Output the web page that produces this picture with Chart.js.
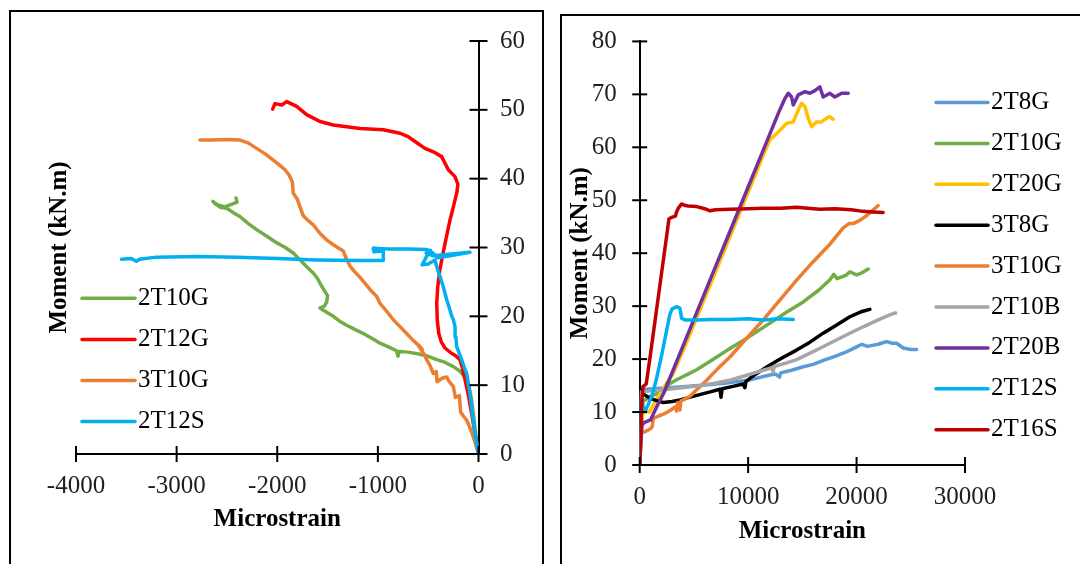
<!DOCTYPE html>
<html><head><meta charset="utf-8">
<script src="https://cdn.jsdelivr.net/npm/chart.js@4.4.1/dist/chart.umd.min.js"></script>
<style>
html,body{margin:0;padding:0;background:#fff;width:1080px;height:564px;overflow:hidden;position:relative;}
canvas{position:absolute;top:0;}
#cL{left:0;} #cR{left:550px;}
.frame{position:absolute;border:2px solid #000;box-sizing:border-box;pointer-events:none;}
#fL{left:9px;top:10px;width:535px;height:620px;}
#fR{left:560px;top:14px;width:560px;height:620px;}
</style></head>
<body>
<canvas id="cL" width="550" height="564"></canvas>
<canvas id="cR" width="530" height="564"></canvas>
<div class="frame" id="fL"></div>
<div class="frame" id="fR"></div>
<script>
// ---------- LEFT PANEL DATA (x = microstrain, y = moment kN.m) ----------
const leftNames = ['2T10G','2T12G','3T10G','2T12S'];
const leftXTicks = [-4000,-3000,-2000,-1000,0];
const leftYTicks = [0,10,20,30,40,50,60];

const L_2T10G = [[0,0],[-20,2],[-45,5],[-70,8],[-100,10.2],[-140,11.3],[-190,12.1],[-250,12.7],[-330,13.3],[-415,13.7],[-500,14.2],[-581,14.5],[-700,14.8],[-790,14.9],[-800,14.2],[-815,15.0],[-900,15.6],[-979,16.1],[-1060,16.8],[-1145,17.5],[-1230,18.1],[-1310,18.7],[-1380,19.3],[-1443,20.0],[-1510,20.6],[-1575,21.2],[-1530,21.5],[-1509,22.1],[-1500,23.0],[-1530,23.7],[-1575,24.8],[-1600,25.5],[-1642,26.3],[-1700,27.1],[-1741,27.7],[-1800,28.6],[-1841,29.2],[-1920,30.0],[-2006,30.7],[-2100,31.6],[-2205,32.6],[-2290,33.5],[-2371,34.5],[-2440,35.1],[-2503,35.7],[-2560,35.8],[-2620,36.4],[-2640,36.7],[-2590,36.2],[-2520,35.9],[-2450,36.3],[-2400,36.6],[-2410,37.2]];
const L_2T12G = [[0,0],[-30,2.5],[-68,5.9],[-100,8.5],[-134,10.8],[-160,12.5],[-184,13.7],[-230,14.3],[-266,14.6],[-333,15.4],[-370,16.3],[-395,17.5],[-410,19.5],[-415,21.9],[-405,24.3],[-385,26.7],[-352,29.2],[-318,31.6],[-283,34.0],[-250,35.9],[-215,38.0],[-205,39.2],[-234,40.3],[-300,41.3],[-366,43.2],[-449,43.9],[-532,44.4],[-631,45.4],[-700,46.1],[-780,46.6],[-946,47.1],[-1178,47.3],[-1443,47.8],[-1575,48.3],[-1708,49.3],[-1807,50.5],[-1906,51.2],[-1956,50.7],[-2023,50.9],[-2046,50.1]];
const L_3T10G = [[0,0],[-30,1.5],[-52,2.5],[-90,4.0],[-117,4.9],[-150,5.5],[-178,6.1],[-190,8.5],[-230,8.2],[-250,9.8],[-290,10.5],[-316,11.2],[-360,11.0],[-412,10.5],[-420,12.0],[-449,11.7],[-480,12.8],[-515,13.7],[-540,14.5],[-600,15.8],[-560,15.2],[-581,15.6],[-650,16.5],[-714,17.5],[-780,18.5],[-847,19.5],[-910,20.7],[-979,21.9],[-1012,22.9],[-1060,23.6],[-1111,24.5],[-1180,25.7],[-1244,26.7],[-1277,27.3],[-1320,28.6],[-1344,29.5],[-1400,30.0],[-1443,30.4],[-1500,31.0],[-1559,31.8],[-1600,32.5],[-1642,33.3],[-1700,34.0],[-1741,34.6],[-1774,35.9],[-1800,37.0],[-1841,37.9],[-1850,39.5],[-1880,40.5],[-1923,41.3],[-1980,42.0],[-2040,42.7],[-2120,43.6],[-2205,44.4],[-2290,45.2],[-2371,45.6],[-2500,45.7],[-2650,45.6],[-2768,45.6]];
const L_2T12S = [[0,0],[-30,2.5],[-52,4.9],[-85,8.8],[-117,11.7],[-140,12.5],[-167,13.7],[-217,15.6],[-225,17.0],[-233,18.5],[-250,19.5],[-266,20.0],[-283,20.9],[-316,22.4],[-350,24.3],[-383,25.8],[-415,27.2],[-432,28.2],[-500,27.6],[-560,27.5],[-520,28.6],[-480,29.6],[-520,29.2],[-450,28.8],[-85,29.3],[-400,28.5],[-480,29.5],[-515,29.7],[-700,29.8],[-900,29.8],[-1046,29.9],[-1040,29.4],[-946,29.5],[-946,28.1],[-1200,28.1],[-1600,28.2],[-2000,28.4],[-2400,28.6],[-2800,28.7],[-3200,28.6],[-3370,28.3],[-3400,28.0],[-3450,28.4],[-3548,28.3]];
const leftSeries = [L_2T10G, L_2T12G, L_3T10G, L_2T12S];

// ---------- RIGHT PANEL DATA ----------
const rightNames = ['2T8G','2T10G','2T20G','3T8G','3T10G','2T10B','2T20B','2T12S','2T16S'];
const rightXTicks = [0,10000,20000,30000];
const rightYTicks = [0,10,20,30,40,50,60,70,80];

const R_2T8G = [[0,0],[200,13.5],[500,14.3],[2000,14.5],[4000,14.8],[6000,15.1],[8000,15.5],[10000,16.0],[11000,16.5],[12000,17.0],[12500,17.2],[12900,16.6],[13000,17.4],[14000,17.9],[15000,18.5],[16000,19.0],[17000,19.8],[18000,20.5],[19000,21.3],[20000,22.3],[20500,22.8],[21000,22.4],[22000,22.8],[22760,23.3],[23300,23.0],[23700,23.0],[24300,22.1],[25000,21.8],[25530,21.8]];
const R_2T10G = [[0,0],[300,12.0],[1000,13.0],[1800,13.6],[2200,14.3],[2800,15.4],[3500,16.2],[4500,17.2],[5250,18.0],[6500,19.6],[8320,22.0],[10000,24.1],[12010,26.8],[13500,28.8],[15080,30.8],[16500,33.0],[17540,35.0],[17900,36.0],[18200,35.2],[19000,35.8],[19380,36.5],[20000,35.9],[20500,36.3],[21070,37.0]];
const R_2T20G = [[0,0],[200,9.0],[400,10.2],[900,10.0],[1300,11.5],[1900,13.5],[2500,15.5],[3100,17.3],[4500,24.0],[6000,31.5],[7500,39.0],[9000,46.5],[10500,54.0],[11600,59.5],[12010,61.4],[12770,62.9],[13550,64.5],[14160,64.8],[14620,67.0],[14930,68.3],[15240,67.7],[15540,65.5],[15850,63.9],[16310,64.8],[16770,64.8],[17240,65.5],[17500,65.8],[17840,65.3]];
const R_3T8G = [[0,0],[100,13.5],[500,13.2],[950,12.6],[1500,12.2],[2180,11.8],[3000,12.0],[3710,12.3],[5000,13.0],[6500,13.8],[7400,14.3],[7500,12.8],[7600,14.4],[8500,14.8],[9550,15.3],[9700,14.6],[9800,15.8],[10500,16.9],[12010,18.9],[13200,20.3],[14470,21.7],[15700,23.2],[16920,24.9],[18200,26.5],[19380,28.0],[20500,29.0],[21220,29.4]];
const R_3T10G = [[0,0],[100,6.0],[500,6.3],[950,6.8],[1150,7.2],[1260,8.8],[1800,9.3],[2180,9.6],[2800,10.3],[3300,11.0],[3400,10.2],[3500,11.8],[3710,10.4],[3800,12.1],[4020,12.3],[4640,13.0],[5300,14.3],[6180,16.0],[7200,18.2],[8320,20.4],[9800,23.8],[11390,27.4],[12900,31.1],[14470,34.9],[16000,38.4],[17540,41.7],[18770,44.8],[19300,45.6],[19690,45.6],[20300,46.2],[20800,46.9],[21220,47.6],[21600,48.3],[21990,49.0]];
const R_2T10B = [[0,0],[100,13.8],[1000,14.0],[2180,14.2],[3500,14.5],[5250,14.9],[6800,15.4],[8320,16.0],[9800,16.9],[11390,17.9],[12200,18.4],[12300,17.5],[12400,18.6],[13400,19.2],[14470,19.9],[16000,21.4],[17540,23.0],[19000,24.5],[20610,26.1],[22000,27.4],[23000,28.3],[23370,28.6],[23600,28.7]];
const R_2T20B = [[0,0],[200,7.5],[400,8.0],[1000,8.5],[1570,11.0],[2200,13.5],[2700,16.0],[4000,22.5],[5500,30.0],[7000,37.5],[8500,45.0],[10000,52.5],[11500,60.0],[12800,66.5],[13390,69.2],[13700,70.2],[14010,69.5],[14160,68.0],[14620,69.9],[15240,70.5],[15700,70.2],[16160,70.7],[16620,71.4],[16920,69.5],[17540,70.2],[18000,69.5],[18620,70.2],[19230,70.2]];
const R_2T12S = [[0,0],[100,12.5],[300,11.0],[490,10.1],[800,11.5],[1200,13.5],[1570,16.5],[2000,20.5],[2490,25.5],[2790,28.5],[3000,29.5],[3410,29.9],[3710,29.6],[3870,27.7],[4200,27.4],[5250,27.4],[6500,27.5],[8320,27.5],[10000,27.6],[11390,27.4],[12800,27.6],[14160,27.5]];
const R_2T16S = [[0,0],[100,7.0],[200,12.0],[300,14.8],[600,15.3],[1000,21.0],[1500,28.5],[2000,36.0],[2500,43.5],[2700,46.5],[3000,46.8],[3300,47.0],[3400,47.8],[3560,48.5],[3870,49.3],[4200,49.0],[4480,48.9],[5250,48.8],[6000,48.4],[6480,48.0],[7000,48.2],[8320,48.3],[10000,48.4],[11390,48.5],[13000,48.5],[14470,48.7],[15500,48.5],[16620,48.3],[18000,48.4],[18770,48.3],[19500,48.2],[20610,47.9],[21500,47.8],[22450,47.7]];
const rightSeries = [R_2T8G, R_2T10G, R_2T20G, R_3T8G, R_3T10G, R_2T10B, R_2T20B, R_2T12S, R_2T16S];

// ---------- STYLES ----------
const leftColors = ['#70AD47','#FF0000','#ED7D31','#00B0F0'];
const rightColors = ['#5B9BD5','#70AD47','#FFC000','#000000','#ED7D31','#A5A5A5','#7030A0','#00B0F0','#C00000'];
const SERIF = '"Liberation Serif","Times New Roman",serif';
const TICK = '#1f1f1f';

function makeSets(names, colors, series, w) {
  return names.map((n, i) => ({
    label: n,
    data: series[i].map(p => ({x: p[0], y: p[1]})),
    borderColor: colors[i], backgroundColor: colors[i],
    borderWidth: w, pointRadius: 0, pointHoverRadius: 0,
    showLine: true, tension: 0,
    borderCapStyle: 'round', borderJoinStyle: 'round',
    order: names.length - i
  }));
}

const crossTicks = {
  id: 'crossTicks',
  afterDraw(chart, args, opts) {
    const ctx = chart.ctx;
    ctx.save();
    ctx.strokeStyle = '#000'; ctx.lineWidth = 2;
    ['x','y'].forEach(id => {
      const s = chart.scales[id];
      const len = id === 'x' ? opts.lenX : opts.lenY;
      s.ticks.forEach(t => {
        const p = s.getPixelForValue(t.value);
        ctx.beginPath();
        if (s.isHorizontal()) {
          ctx.moveTo(p, s.top - len); ctx.lineTo(p, s.top + len);
        } else {
          const x0 = s.position === 'left' ? s.right : s.left;
          ctx.moveTo(x0 - len, p); ctx.lineTo(x0 + len, p);
        }
        ctx.stroke();
      });
    });
    ctx.restore();
  }
};

const boxLegend = {
  id: 'boxLegend',
  afterDraw(chart, args, o) {
    const ctx = chart.ctx;
    ctx.save();
    ctx.font = '25px ' + SERIF;
    ctx.textBaseline = 'middle';
    ctx.textAlign = 'left';
    chart.data.datasets.forEach((ds, i) => {
      const y = o.y0 + i * o.dy;
      ctx.strokeStyle = ds.borderColor; ctx.lineWidth = 3.5; ctx.lineCap = 'round';
      ctx.beginPath(); ctx.moveTo(o.x0, y); ctx.lineTo(o.x1, y); ctx.stroke();
      ctx.fillStyle = '#000';
      ctx.fillText(ds.label, o.x1 + o.gap, y);
    });
    ctx.restore();
  }
};

function tickFont() { return {family: SERIF, size: 25}; }
function titleFont() { return {family: SERIF, size: 25, weight: 'bold'}; }

// ---------- LEFT CHART ----------
new Chart(document.getElementById('cL'), {
  type: 'scatter',
  data: { datasets: makeSets(leftNames, leftColors, leftSeries, 3.5) },
  plugins: [crossTicks, boxLegend],
  options: {
    responsive: false, animation: false, events: [],
    layout: { padding: { top: 41, left: 0, right: 0, bottom: 0 } },
    plugins: {
      legend: { display: false }, tooltip: { enabled: false },
      crossTicks: { lenX: 8, lenY: 9 },
      boxLegend: { x0: 82, x1: 135, gap: 3, y0: 298.3, dy: 41.1 }
    },
    scales: {
      x: {
        type: 'linear', position: 'bottom', min: -4000, max: 0,
        afterBuildTicks: s => { s.ticks = leftXTicks.map(v => ({value: v})); },
        afterFit: s => { s.height = 110; },
        ticks: { color: TICK, font: tickFont(), padding: 17, maxRotation: 0, autoSkip: false, callback: v => String(v) },
        grid: { display: true, drawOnChartArea: false, drawTicks: false },
        border: { display: true, color: '#000', width: 2 },
        title: { display: true, text: 'Microstrain', color: '#000', font: titleFont(), padding: { top: 0, bottom: 29 } }
      },
      y: {
        type: 'linear', position: 'right', min: 0, max: 60,
        afterBuildTicks: s => { s.ticks = leftYTicks.map(v => ({value: v})); },
        afterFit: s => { s.width = 71.5; },
        ticks: { color: TICK, font: tickFont(), padding: 21.5, autoSkip: false, callback: v => String(v) },
        grid: { display: true, drawOnChartArea: false, drawTicks: false },
        border: { display: true, color: '#000', width: 2 }
      },
      yT: {
        type: 'linear', position: 'left', min: 0, max: 1, display: true,
        afterFit: s => { s.width = 76; },
        ticks: { display: false },
        grid: { display: false, drawTicks: false },
        border: { display: false },
        title: { display: true, text: 'Moment (kN.m)', color: '#000', font: titleFont(), padding: { top: 45, bottom: 0 } }
      }
    }
  }
});

// ---------- RIGHT CHART ----------
new Chart(document.getElementById('cR'), {
  type: 'scatter',
  data: { datasets: makeSets(rightNames, rightColors, rightSeries, 3.5) },
  plugins: [crossTicks, boxLegend],
  options: {
    responsive: false, animation: false, events: [],
    layout: { padding: { top: 41.4, left: 0, right: 115, bottom: 0 } },
    plugins: {
      legend: { display: false }, tooltip: { enabled: false },
      crossTicks: { lenX: 8, lenY: 7.5 },
      boxLegend: { x0: 386, x1: 438, gap: 3, y0: 102.5, dy: 40.9 }
    },
    scales: {
      x: {
        type: 'linear', position: 'bottom', min: 0, max: 30000,
        afterBuildTicks: s => { s.ticks = rightXTicks.map(v => ({value: v})); },
        afterFit: s => { s.height = 99; },
        ticks: { color: TICK, font: tickFont(), padding: 17, maxRotation: 0, autoSkip: false, callback: v => String(v) },
        grid: { display: true, drawOnChartArea: false, drawTicks: false },
        border: { display: true, color: '#000', width: 2 },
        title: { display: true, text: 'Microstrain', color: '#000', font: titleFont(), padding: { top: 0, bottom: 17 } }
      },
      y: {
        type: 'linear', position: 'left', min: 0, max: 80,
        afterBuildTicks: s => { s.ticks = rightYTicks.map(v => ({value: v})); },
        afterFit: s => { s.width = 89.7; },
        ticks: { color: TICK, font: tickFont(), padding: 23, autoSkip: false, callback: v => String(v) },
        grid: { display: true, drawOnChartArea: false, drawTicks: false },
        border: { display: true, color: '#000', width: 2 },
        title: { display: true, text: 'Moment (kN.m)', color: '#000', font: titleFont(), padding: { top: 16, bottom: 0 } }
      }
    }
  }
});
</script>
</body></html>
